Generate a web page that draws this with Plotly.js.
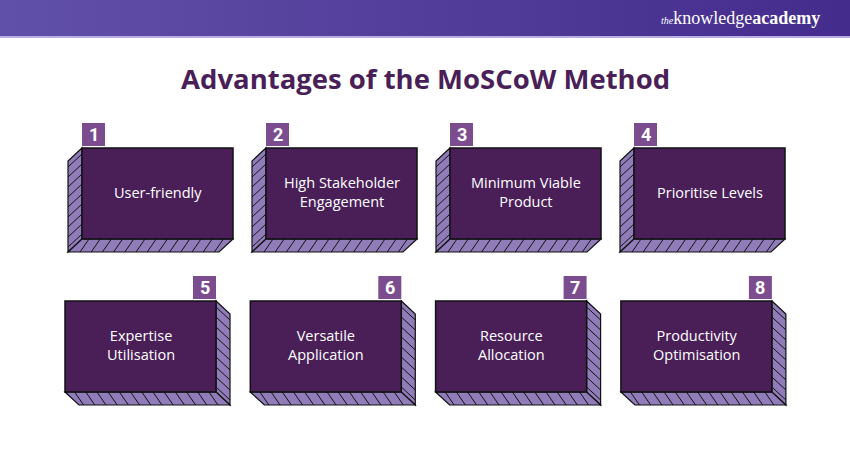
<!DOCTYPE html>
<html>
<head>
<meta charset="utf-8">
<script src="https://cdn.plot.ly/plotly-3.0.1.min.js"></script>
<style>
html,body{margin:0;padding:0;background:#ffffff;}
#chart{width:850px;height:450px;}
</style>
</head>
<body>
<div id="chart"></div>
<script>
// ---- content ----
const titleText = "Advantages of the MoSCoW Method";
const brandText = "<span style='font-size:10px'><i>the</i></span>knowledge<b>academy</b>";
const itemNumbers = ["1", "2", "3", "4", "5", "6", "7", "8"];
const itemLabels = [
  "User-friendly",
  "High Stakeholder<br>Engagement",
  "Minimum Viable<br>Product",
  "Prioritise Levels",
  "Expertise<br>Utilisation",
  "Versatile<br>Application",
  "Resource<br>Allocation",
  "Productivity<br>Optimisation"
];

// ---- style / layout constants ----
const W = 850, H = 450;
const frontColor = "#4a1f58";
const sideColor = "#8f7cb9";
const badgeColor = "#7c4d8e";
const edgeColor = "#111111";
const boxW = 151, boxH = 91, depthX = 14, depthY = 13;
const rows = [
  {y0: 148, x0: 82, step: 184, dir: -1},
  {y0: 301, x0: 65, step: 185.3, dir: 1}
];

const shapes = [];
const annotations = [];

// header band underline
shapes.push({type: "rect", xref: "x", yref: "y", x0: 0, x1: W, y0: 36, y1: 38,
  fillcolor: "#b9acdf", line: {width: 0}, layer: "below"});

function poly(pts, fill, lw) {
  let p = "M" + pts.map(q => q[0].toFixed(1) + "," + q[1].toFixed(1)).join(" L") + " Z";
  shapes.push({type: "path", xref: "x", yref: "y", path: p, fillcolor: fill,
    line: {color: edgeColor, width: lw}});
}
function segs(list) {
  let p = list.map(s => "M" + s[0].toFixed(1) + "," + s[1].toFixed(1) + " L" + s[2].toFixed(1) + "," + s[3].toFixed(1)).join(" ");
  shapes.push({type: "path", xref: "x", yref: "y", path: p, line: {color: edgeColor, width: 1}});
}

itemLabels.forEach((label, i) => {
  const r = rows[Math.floor(i / 4)];
  const c = i % 4;
  const x0 = r.x0 + c * r.step, x1 = x0 + boxW;
  const y0 = r.y0, y1 = y0 + boxH;
  const d = r.dir;
  const dx = d * depthX, dy = depthY;
  const xe = d < 0 ? x0 : x1; // edge where the side face attaches
  // side face
  poly([[xe, y0], [xe, y1], [xe + dx, y1 + dy], [xe + dx, y0 + dy]], sideColor, 1.2);
  // bottom face
  poly([[x0, y1], [x1, y1], [x1 + dx, y1 + dy], [x0 + dx, y1 + dy]], sideColor, 1.2);
  // hatch lines
  const hs = [];
  for (let y = y0 + 6; y <= y1 - 2; y += 10) {
    hs.push([xe, y, xe + dx, y + dy]);
  }
  const hx = d * 9;
  if (d < 0) {
    for (let x = x0 + 7; x <= x1 - 5; x += 11.2) hs.push([x, y1, x + hx, y1 + dy]);
  } else {
    for (let x = x1 - 7; x >= x0 + 5; x -= 11.2) hs.push([x, y1, x + hx, y1 + dy]);
  }
  segs(hs);
  // front face
  poly([[x0, y0], [x1, y0], [x1, y1], [x0, y1]], frontColor, 1.5);
  // badge
  const bx0 = d < 0 ? x0 : x1 - 23;
  shapes.push({type: "rect", xref: "x", yref: "y", x0: bx0, x1: bx0 + 23, y0: y0 - 25, y1: y0 - 2,
    fillcolor: badgeColor, line: {width: 0}});
  annotations.push({x: bx0 + 11.5, y: y0 - 13.5, xref: "x", yref: "y", text: "<b>" + itemNumbers[i] + "</b>",
    showarrow: false, font: {family: "Roboto, Open Sans, sans-serif", size: 18, color: "#ffffff"},
    xanchor: "center", yanchor: "middle"});
  annotations.push({x: (x0 + x1) / 2, y: (y0 + y1) / 2 - 1.5, xref: "x", yref: "y", text: label,
    showarrow: false, font: {family: "Open Sans, sans-serif", size: 14.5, color: "#ffffff"},
    xanchor: "center", yanchor: "middle", align: "center"});
});

// title
annotations.push({x: W / 2, y: 78, xref: "x", yref: "y", text: "<b>" + titleText + "</b>",
  showarrow: false, font: {family: "Open Sans, sans-serif", size: 27.5, color: "#4a1f58"},
  xanchor: "center", yanchor: "middle"});
// brand
annotations.push({x: 822, y: 18, xref: "x", yref: "y", text: brandText,
  showarrow: false, font: {family: "Liberation Serif, DejaVu Serif, serif", size: 18, color: "#ffffff"},
  xanchor: "right", yanchor: "middle"});

// header gradient via filled trace
const headerTrace = {
  type: "scatter", mode: "lines", x: [0, W, W, 0, 0], y: [0, 0, 36, 36, 0],
  fill: "toself", line: {width: 0},
  fillgradient: {type: "horizontal", colorscale: [[0, "#6150a9"], [1, "#442c8c"]]},
  hoverinfo: "skip", showlegend: false
};

const layout = {
  width: W, height: H,
  margin: {l: 0, r: 0, t: 0, b: 0},
  paper_bgcolor: "#ffffff", plot_bgcolor: "#ffffff",
  xaxis: {range: [0, W], visible: false, fixedrange: true},
  yaxis: {range: [H, 0], visible: false, fixedrange: true},
  shapes: shapes, annotations: annotations, showlegend: false
};

Plotly.newPlot("chart", [headerTrace], layout, {displayModeBar: false, staticPlot: true});
</script>
</body>
</html>
